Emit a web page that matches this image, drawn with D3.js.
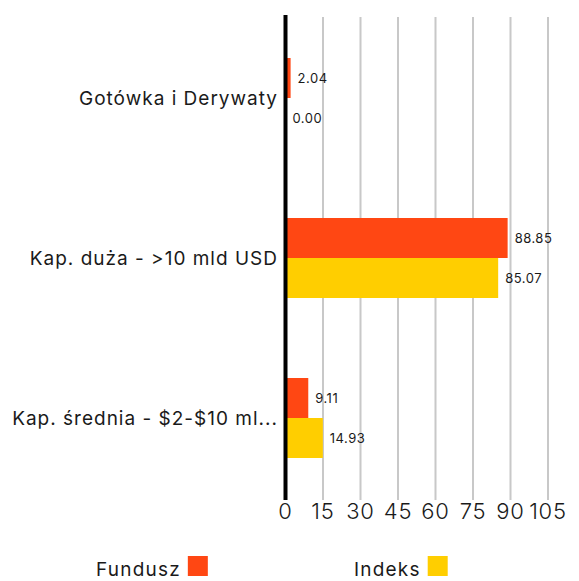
<!DOCTYPE html>
<html>
<head>
<meta charset="utf-8">
<script src="https://cdn.jsdelivr.net/npm/d3@7"></script>
<style>
  body { margin: 0; background: #fff; }
  text { font-family: Inter, "Open Sans", sans-serif; fill: #1a1a1a; }
</style>
</head>
<body>
<div id="chart"></div>
<script>
const categories = ["Gotówka i Derywaty", "Kap. duża - >10 mld USD", "Kap. średnia - $2-$10 ml..."];
const seriesNames = ["Fundusz", "Indeks"];
const fundusz = [2.04, 88.85, 9.11];
const indeks = [0.00, 85.07, 14.93];
const tickValues = [0, 15, 30, 45, 60, 75, 90, 105];
const colors = ["#ff4713", "#ffce00"];

const width = 579, height = 581;

const svg = d3.select("#chart").append("svg")
    .attr("width", width)
    .attr("height", height);

const x = d3.scaleLinear().domain([0, 105]).range([285.5, 548]);
const y = d3.scaleBand().domain(categories).range([18, 498])
    .paddingInner(0.5).paddingOuter(0.25);
const ySub = d3.scaleBand().domain(seriesNames).range([0, y.bandwidth()]);

// grid lines
svg.append("g")
    .selectAll("line")
    .data(tickValues.slice(1))
    .join("line")
    .attr("x1", d => x(d)).attr("x2", d => x(d))
    .attr("y1", 17).attr("y2", 500)
    .attr("stroke", "#c8c8c8")
    .attr("stroke-width", 2);

// bars
const rows = categories.map((c, i) => ({cat: c, values: [fundusz[i], indeks[i]]}));
const groups = svg.append("g")
    .selectAll("g")
    .data(rows)
    .join("g")
    .attr("transform", d => `translate(0,${y(d.cat)})`);

groups.selectAll("rect")
    .data(d => d.values.map((v, j) => ({name: seriesNames[j], v, j})))
    .join("rect")
    .attr("x", x(0))
    .attr("y", d => ySub(d.name))
    .attr("width", d => x(d.v) - x(0))
    .attr("height", ySub.bandwidth())
    .attr("fill", d => colors[d.j]);

groups.selectAll("text")
    .data(d => d.values.map((v, j) => ({name: seriesNames[j], v, j})))
    .join("text")
    .attr("x", d => x(d.v) + 7)
    .attr("y", d => ySub(d.name) + ySub.bandwidth() / 2)
    .attr("dy", "0.35em")
    .attr("font-size", 13)
    .attr("letter-spacing", 0.5)
    .text(d => d.v.toFixed(2));

// category labels
svg.append("g")
    .selectAll("text")
    .data(categories)
    .join("text")
    .attr("x", 278)
    .attr("y", d => y(d) + y.bandwidth() / 2)
    .attr("dy", "0.35em")
    .attr("text-anchor", "end")
    .attr("font-size", 19)
    .attr("letter-spacing", 1)
    .text(d => d);

// zero axis line
svg.append("line")
    .attr("x1", x(0)).attr("x2", x(0))
    .attr("y1", 15).attr("y2", 500)
    .attr("stroke", "#000")
    .attr("stroke-width", 4);

// x tick labels
svg.append("g")
    .selectAll("text")
    .data(tickValues)
    .join("text")
    .attr("x", d => x(d))
    .attr("y", 519)
    .attr("text-anchor", "middle")
    .attr("font-size", 22)
    .attr("font-weight", 300)
    .attr("letter-spacing", 0.8)
    .text(d => d);

// legend
const legendX = [96, 354];
const legend = svg.append("g")
    .selectAll("g")
    .data(seriesNames)
    .join("g")
    .attr("transform", (d, i) => `translate(${legendX[i]},576)`);

legend.append("text")
    .attr("font-size", 19)
    .attr("letter-spacing", 1.2)
    .text(d => d)
    .each(function(d, i) {
        const w = this.getComputedTextLength();
        d3.select(this.parentNode).append("rect")
            .attr("x", w + 7)
            .attr("y", -20)
            .attr("width", 20)
            .attr("height", 20)
            .attr("fill", colors[i]);
    });
</script>
</body>
</html>
